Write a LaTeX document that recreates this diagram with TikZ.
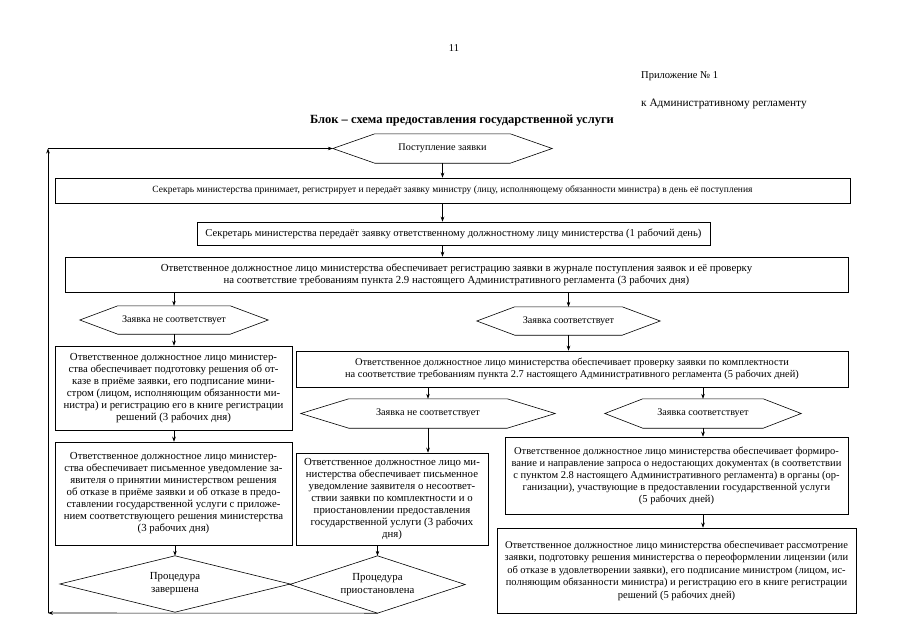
\documentclass[tikz,border=0pt]{standalone}
\usepackage{fontspec}
\setmainfont{Liberation Serif}
\usetikzlibrary{arrows.meta}
\tikzset{
  box/.style={draw, line width=0.6pt, inner sep=0pt, align=center, font=\fontsize{10.8}{12}\selectfont},
  holder/.style={inner sep=0pt, align=center, font=\fontsize{10.2}{12}\selectfont},
  arr/.style={line width=0.6pt, -{Stealth[length=5pt,width=3.6pt]}},
  outline/.style={line width=0.6pt},
  plain/.style={inner sep=0pt, font=\fontsize{10.5}{12}\selectfont}
}
\begin{document}
\begin{tikzpicture}[x=1pt,y=-1pt]
\useasboundingbox (0,0) rectangle (905,640);
\fill[white] (0,0) rectangle (905,640);
% header
\node[plain] (pg) at (454,48) {11};
\node[plain, anchor=west] (app1) at (641,76) {Приложение № 1};
\node[plain, anchor=west, font=\fontsize{11.3}{12}\selectfont] (app2) at (641,104) {к Административному регламенту};
\node[plain, font=\bfseries\fontsize{12.5}{14}\selectfont] (title) at (462,121) {Блок – схема предоставления государственной услуги};
% hexagons (text holders)
\node[holder, minimum width=219pt, minimum height=29pt] (h0) at (442.5,148.5) {Поступление заявки};
\node[holder, minimum width=188pt, minimum height=28pt] (hL) at (174,320) {Заявка не соответствует};
\node[holder, minimum width=183pt, minimum height=28pt] (hR) at (568.5,321) {Заявка соответствует};
\node[holder, minimum width=254pt, minimum height=29pt] (hM) at (428,413.5) {Заявка не соответствует};
\node[holder, minimum width=196pt, minimum height=29pt] (hR2) at (703,413.5) {Заявка соответствует};
\foreach \n/\d in {h0/42,hL/38,hR/38,hM/48,hR2/38}
  \draw[outline] (\n.west) -- ([xshift=\d pt]\n.north west) -- ([xshift=-\d pt]\n.north east) -- (\n.east) -- ([xshift=-\d pt]\n.south east) -- ([xshift=\d pt]\n.south west) -- cycle;
% boxes
\node[box, minimum width=795pt, minimum height=25pt, font=\fontsize{9.5}{12}\selectfont] (b1) at (452.5,190.5) {Секретарь министерства принимает, регистрирует и передаёт заявку министру (лицу, исполняющему обязанности министра) в день её поступления};
\node[box, minimum width=513pt, minimum height=23pt, font=\fontsize{10.6}{12}\selectfont] (b2) at (453.5,233.5) {Секретарь министерства передаёт заявку ответственному должностному лицу министерства (1 рабочий день)};
\node[box, minimum width=783pt, minimum height=35pt] (b3) at (456.5,274.5) {Ответственное должностное лицо министерства обеспечивает регистрацию заявки в журнале поступления заявок и её проверку\\на соответствие требованиям пункта 2.9 настоящего Административного регламента (3 рабочих дня)};
\node[box, minimum width=237pt, minimum height=84pt] (L1) at (173.5,388) {Ответственное должностное лицо министер-\\ства обеспечивает подготовку решения об от-\\казе в приёме заявки, его подписание мини-\\стром (лицом, исполняющим обязанности ми-\\нистра) и регистрацию его в книге регистрации\\решений (3 рабочих дня)};
\node[box, minimum width=237pt, minimum height=103pt] (L2) at (173.5,493.5) {Ответственное должностное лицо министер-\\ства обеспечивает письменное уведомление за-\\явителя о принятии министерством решения\\об отказе в приёме заявки и об отказе в предо-\\ставлении государственной услуги с приложе-\\нием соответствующего решения министерства\\(3 рабочих дня)};
\node[box, minimum width=552pt, minimum height=36pt, font=\fontsize{10.4}{12}\selectfont] (R1) at (572,369) {Ответственное должностное лицо министерства обеспечивает проверку заявки по комплектности\\на соответствие требованиям пункта 2.7 настоящего Административного регламента (5 рабочих дней)};
\node[box, minimum width=192pt, minimum height=92pt] (M) at (392,499) {Ответственное должностное лицо ми-\\нистерства обеспечивает письменное\\уведомление заявителя о несоответ-\\ствии заявки по комплектности и о\\приостановлении предоставления\\государственной услуги (3 рабочих\\дня)};
\node[box, minimum width=343pt, minimum height=77pt, font=\fontsize{10.5}{12}\selectfont] (R2) at (676.5,475.5) {Ответственное должностное лицо министерства обеспечивает формиро-\\вание и направление запроса о недостающих документах (в соответствии\\с пунктом 2.8 настоящего Административного регламента) в органы (ор-\\ганизации), участвующие в предоставлении государственной услуги\\(5 рабочих дней)};
\node[box, minimum width=359pt, minimum height=85pt, font=\fontsize{10.5}{12.5}\selectfont] (R3) at (676.5,570.5) {Ответственное должностное лицо министерства обеспечивает рассмотрение\\заявки, подготовку решения министерства о переоформлении лицензии (или\\об отказе в удовлетворении заявки), его подписание министром (лицом, ис-\\полняющим обязанности министра) и регистрацию его в книге регистрации\\решений (5 рабочих дней)};
% diamonds (text holders + outline)
\node[holder, minimum width=230pt, minimum height=56pt, font=\fontsize{10.8}{13}\selectfont] (dL) at (175,584) {Процедура\\завершена};
\node[holder, minimum width=175pt, minimum height=57pt, font=\fontsize{10.8}{13}\selectfont] (dM) at (377.5,584.5) {Процедура\\приостановлена};
\foreach \n in {dL,dM}
  \draw[outline] (\n.west) -- (\n.north) -- (\n.east) -- (\n.south) -- cycle;
% connectors
\draw[arr] (h0.south) -- (h0.south |- b1.north);
\draw[arr] (b1.south -| h0.south) -- (b2.north -| h0.south);
\draw[arr] (b2.south -| h0.south) -- (b3.north -| h0.south);
\draw[arr] (b3.south -| hL.north) -- (hL.north);
\draw[arr] (b3.south -| hR.north) -- (hR.north);
\draw[arr] (hL.south) -- (hL.south |- L1.north);
\draw[arr] (L1.south -| hL.south) -- (L2.north -| hL.south);
\draw[arr] (L2.south -| dL.north) -- (dL.north);
\draw[arr] (hR.south) -- (hR.south |- R1.north);
\draw[arr] (R1.south -| hM.north) -- (hM.north);
\draw[arr] (R1.south -| hR2.north) -- (hR2.north);
\draw[arr] (hM.south) -- (hM.south |- M.north);
\draw[arr] (M.south -| dM.north) -- (dM.north);
\draw[arr] (hR2.south) -- (hR2.south |- R2.north);
\draw[arr] (R2.south -| hR2.south) -- (R3.north -| hR2.south);
% feedback loop
\coordinate (fbB) at (48,613);
\coordinate (fbT) at (48,148.5);
\draw[arr] (dM.south) -- (fbB);
\draw[arr] (fbB) -- (fbT);
\draw[arr] (fbT) -- (h0.west);
\end{tikzpicture}
\end{document}
